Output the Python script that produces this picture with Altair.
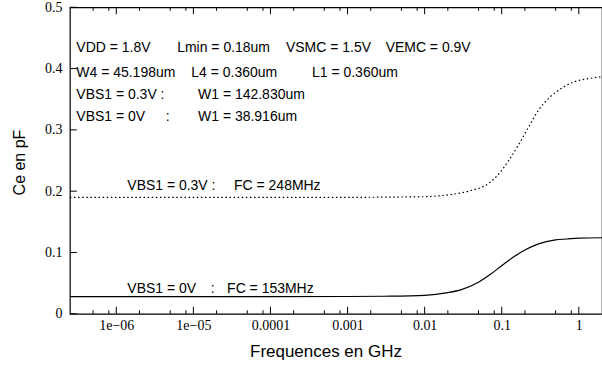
import altair as alt
import pandas as pd

# Capacitance Ce (pF) versus frequency (GHz), two bias conditions
freq_0v = [2.5e-7, 1e-6, 1e-5, 1e-4, 1e-3, 3e-3, 0.01, 0.02, 0.03, 0.05, 0.07,
           0.1, 0.15, 0.2, 0.3, 0.5, 0.7, 1.0, 2.0]
ce_0v = [0.028, 0.028, 0.028, 0.028, 0.0282, 0.0286, 0.030, 0.0345, 0.0395, 0.0515,
         0.0635, 0.0785, 0.0945, 0.104, 0.114, 0.1205, 0.122, 0.1235, 0.124]

freq_03v = [2.5e-7, 1e-6, 1e-5, 1e-4, 1e-3, 5e-3, 0.01, 0.02, 0.037, 0.068, 0.09,
            0.123, 0.166, 0.224, 0.3, 0.41, 0.6, 0.85, 1.4, 2.0]
ce_03v = [0.19, 0.19, 0.19, 0.19, 0.19, 0.1905, 0.191, 0.194, 0.2, 0.213, 0.227,
          0.25, 0.276, 0.305, 0.332, 0.352, 0.368, 0.378, 0.384, 0.387]

# Annotation texts and their anchor (frequency, capacitance)
label_text = [
    "VDD = 1.8V", "Lmin = 0.18um", "VSMC = 1.5V", "VEMC = 0.9V",
    "W4 = 45.198um", "L4 = 0.360um", "L1 = 0.360um",
    "VBS1 = 0.3V :", "W1 = 142.830um",
    "VBS1 = 0V", ":", "W1 = 38.916um",
    "VBS1 = 0.3V :", "FC = 248MHz",
    "VBS1 = 0V", ":", "FC = 153MHz",
]
label_freq = [
    3.03e-7, 6.17e-6, 1.59e-4, 3.12e-3,
    3.03e-7, 9.4e-6, 3.46e-4,
    3.03e-7, 1.15e-5,
    3.03e-7, 4.37e-6, 1.15e-5,
    1.39e-6, 3.37e-5,
    1.39e-6, 1.68e-5, 2.74e-5,
]
label_ce = [
    0.4276, 0.4276, 0.4276, 0.4276,
    0.387, 0.387, 0.387,
    0.3507, 0.3507,
    0.3143, 0.3143, 0.3143,
    0.2016, 0.2016,
    0.0347, 0.0347, 0.0347,
]

x_major = [1e-6, 1e-5, 1e-4, 1e-3, 1e-2, 1e-1, 1.0]
x_minor = [5e-7, 8e-7, 2e-6, 5e-6, 8e-6, 2e-5, 5e-5, 8e-5, 2e-4, 5e-4, 8e-4,
           2e-3, 5e-3, 8e-3, 2e-2, 5e-2, 8e-2, 0.2, 0.5, 0.8]
y_major = [0, 0.1, 0.2, 0.3, 0.4, 0.5]

W, H = 533, 307
SANS = "Liberation Sans"
SERIF = "Liberation Serif"

x_scale = alt.Scale(type="log", domain=[2.5e-7, 2.0], nice=False)
y_scale = alt.Scale(domain=[0, 0.5], nice=False, zero=False)

df_0v = pd.DataFrame({"f": freq_0v, "ce": ce_0v})
df_03v = pd.DataFrame({"f": freq_03v, "ce": ce_03v})
df_lab = pd.DataFrame({"f": label_freq, "ce": label_ce, "t": label_text})
df_xmaj = pd.DataFrame({"f": x_major})
df_xmin = pd.DataFrame({"f": x_minor})
df_ymaj = pd.DataFrame({"ce": y_major})

x_axis = alt.Axis(
    values=x_major, ticks=False, domain=False, grid=False,
    labelFont=SERIF, labelFontSize=14, labelColor="black", labelPadding=5,
    labelExpr="datum.value < 5e-6 ? '1e\u221206' : datum.value < 5e-5 ? '1e\u221205' : format(datum.value, '~g')",
    title="Frequences en GHz", titleFont=SANS, titleFontSize=17,
    titleFontWeight="normal", titleColor="black",
    titleX=256, titleY=38, titleBaseline="middle", titleAlign="center",
)
y_axis = alt.Axis(
    values=y_major, ticks=False, domain=False, grid=False, format="~g",
    labelFont=SERIF, labelFontSize=14, labelColor="black", labelPadding=8,
    title="Ce en pF", titleFont=SANS, titleFontSize=16,
    titleFontWeight="normal", titleColor="black",
    titleX=-50, titleY=155, titleBaseline="middle", titleAlign="center",
    titleAngle=270,
)

X = alt.X("f:Q", scale=x_scale, axis=x_axis)
Y = alt.Y("ce:Q", scale=y_scale, axis=y_axis)

line_0v = alt.Chart(df_0v).mark_line(
    color="black", strokeWidth=1.2, interpolate="monotone"
).encode(x=X, y=Y)

line_03v = alt.Chart(df_03v).mark_line(
    color="black", strokeWidth=1.2, strokeDash=[1.5, 2.6], interpolate="monotone"
).encode(x=X, y=Y)

labels = alt.Chart(df_lab).mark_text(
    align="left", baseline="alphabetic", font=SANS, fontSize=14, color="black"
).encode(x=X, y=Y, text="t:N")

def x_ticks(df, y_from, y_to):
    return alt.Chart(df).mark_rule(color="black", strokeWidth=1).encode(
        x=X, y=alt.value(y_from), y2=alt.value(y_to),
    )

tick_layers = [
    x_ticks(df_xmaj, H, H - 7),
    x_ticks(df_xmaj, 0, 7),
    x_ticks(df_xmin, H, H - 3.5),
    x_ticks(df_xmin, 0, 3.5),
    alt.Chart(df_ymaj).mark_rule(color="black", strokeWidth=1).encode(
        y=Y, x=alt.value(0), x2=alt.value(7),
    ),
]

chart = alt.layer(line_0v, line_03v, labels, *tick_layers).properties(
    width=W,
    height=H,
    autosize=alt.AutoSizeParams(type="none"),
    padding={"left": 70, "top": 7, "right": 0, "bottom": 53},
    background="white",
).configure_view(
    stroke="black", strokeWidth=1.2
)

chart.save("out.html", embed_options={"renderer": "svg", "actions": False})
